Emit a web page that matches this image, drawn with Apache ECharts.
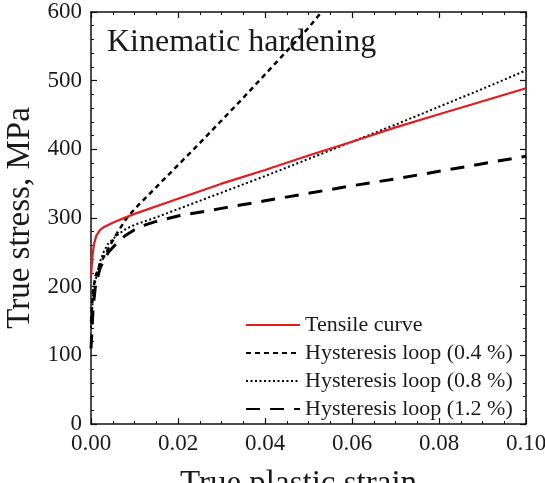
<!DOCTYPE html>
<html>
<head>
<meta charset="utf-8">
<script src="https://cdn.jsdelivr.net/npm/echarts@6/dist/echarts.min.js"></script>
<style>html,body{margin:0;padding:0;background:#fff}#c{width:545px;height:483px}</style>
</head>
<body>
<div id="c"></div>
<script>
var seriesNames = ['Tensile curve', 'Hysteresis loop (0.4 %)', 'Hysteresis loop (0.8 %)', 'Hysteresis loop (1.2 %)'];
var xTicks = ['0.00', '0.02', '0.04', '0.06', '0.08', '0.10'];
var yTicks = ['0', '100', '200', '300', '400', '500', '600'];

var strainTensile = [0, 0.0003, 0.0007, 0.0012, 0.002, 0.003, 0.005, 0.008, 0.01, 0.02, 0.03, 0.04, 0.05, 0.06, 0.07, 0.08, 0.09, 0.10];
var stressTensile = [215, 243, 262, 274, 282, 287, 293, 301, 306, 328, 350, 370, 391, 411, 432, 451, 470, 489];

var strain04 = [0, 0.0005, 0.001, 0.002, 0.003, 0.004, 0.005, 0.006, 0.008, 0.01, 0.015, 0.02, 0.025, 0.03, 0.035, 0.04, 0.045, 0.05, 0.053];
var stress04 = [150, 195, 215, 232, 244, 256, 267, 278, 298, 313, 345, 377, 409, 442, 475, 509, 543, 577, 600];

var strain08 = [0, 0.0005, 0.001, 0.002, 0.003, 0.004, 0.006, 0.008, 0.01, 0.015, 0.02, 0.03, 0.04, 0.05, 0.06, 0.07, 0.08, 0.09, 0.10];
var stress08 = [140, 190, 208, 235, 252, 263, 275, 284, 290, 301, 313, 337, 361, 386, 411, 436, 462, 488, 515];

var strain12 = [0, 0.0005, 0.001, 0.002, 0.003, 0.004, 0.006, 0.008, 0.01, 0.0125, 0.015, 0.02, 0.03, 0.04, 0.05, 0.06, 0.07, 0.08, 0.09, 0.10];
var stress12 = [110, 170, 200, 225, 240, 250, 264, 275, 283, 290, 295, 303, 314, 325, 336, 347, 357, 368, 379, 390];

function pairs(xs, ys) { return xs.map(function (x, i) { return [x, ys[i]]; }); }

var FONT = "'Liberation Serif', 'Times New Roman', serif";
var TXT = '#1a1a1a';

function xAxisCfg(pos, showLabels) {
  return {
    type: 'value', position: pos, min: 0, max: 0.1, interval: 0.02,
    axisLine: { show: true, onZero: false, lineStyle: { color: '#111', width: 1.5 } },
    axisTick: { show: true, inside: true, length: 6, lineStyle: { color: '#111', width: 1.2 } },
    minorTick: { show: true, splitNumber: 4, length: 3, lineStyle: { color: '#111', width: 1 } },
    splitLine: { show: false },
    axisLabel: {
      show: showLabels, margin: 8, fontFamily: FONT, fontSize: 23, color: TXT,
      formatter: function (v) { return xTicks[Math.round(v / 0.02)]; }
    },
    name: showLabels ? 'True plastic strain' : '', nameLocation: 'middle', nameGap: 44,
    nameTextStyle: { fontFamily: FONT, fontSize: 33, color: TXT, padding: [0, 20, 0, 0] }
  };
}
function yAxisCfg(pos, showLabels) {
  return {
    type: 'value', position: pos, min: 0, max: 600, interval: 100,
    axisLine: { show: true, onZero: false, lineStyle: { color: '#111', width: 1.5 } },
    axisTick: { show: true, inside: true, length: 6, lineStyle: { color: '#111', width: 1.2 } },
    minorTick: { show: true, splitNumber: 5, length: 3, lineStyle: { color: '#111', width: 1 } },
    splitLine: { show: false },
    axisLabel: {
      show: showLabels, margin: 9, fontFamily: FONT, fontSize: 23, color: TXT,
      formatter: function (v) { return yTicks[Math.round(v / 100)]; }
    },
    name: showLabels ? 'True stress, MPa' : '', nameLocation: 'middle', nameGap: 54,
    nameTextStyle: { fontFamily: FONT, fontSize: 33, color: TXT }
  };
}

var chart = echarts.init(document.getElementById('c'), null, { renderer: 'canvas' });
chart.setOption({
  animation: false,
  backgroundColor: '#fff',
  grid: { left: 91, right: 19, top: 12, bottom: 59, containLabel: false, outerBoundsMode: 'none' },
  title: {
    text: 'Kinematic hardening', left: 102, top: 22,
    textStyle: { fontFamily: FONT, fontSize: 32, fontWeight: 'normal', color: TXT }
  },
  legend: {
    orient: 'vertical', left: 240, top: 309, itemWidth: 54, itemHeight: 12, itemGap: 6,
    textStyle: { fontFamily: FONT, fontSize: 22, color: TXT },
    itemStyle: { opacity: 0 },
    data: seriesNames
  },
  xAxis: [xAxisCfg('bottom', true), xAxisCfg('top', false)],
  yAxis: [yAxisCfg('left', true), yAxisCfg('right', false)],
  series: [
    {
      name: seriesNames[1], type: 'line', showSymbol: false, symbol: 'none', smooth: false,
      data: pairs(strain04, stress04), z: 2,
      lineStyle: { color: '#000', width: 2.5, type: [5, 4] }, itemStyle: { color: '#000' }
    },
    {
      name: seriesNames[2], type: 'line', showSymbol: false, symbol: 'none', smooth: false,
      data: pairs(strain08, stress08), z: 2,
      lineStyle: { color: '#000', width: 2, type: [2, 2.5] }, itemStyle: { color: '#000' }
    },
    {
      name: seriesNames[3], type: 'line', showSymbol: false, symbol: 'none', smooth: false,
      data: pairs(strain12, stress12), z: 2,
      lineStyle: { color: '#000', width: 3, type: [14, 10] }, itemStyle: { color: '#000' }
    },
    {
      name: seriesNames[0], type: 'line', showSymbol: false, symbol: 'none', smooth: false,
      data: pairs(strainTensile, stressTensile), z: 3,
      lineStyle: { color: '#e8191c', width: 2.2 }, itemStyle: { color: '#e8191c' }
    }
  ]
});
</script>
</body>
</html>
